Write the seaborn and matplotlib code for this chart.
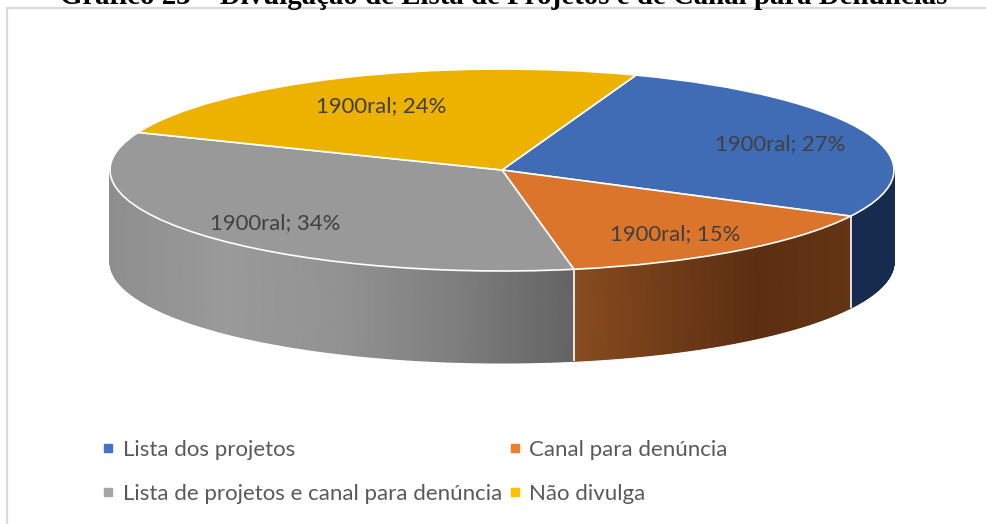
import numpy as np
import matplotlib
matplotlib.use('Agg')
import matplotlib.pyplot as plt
from matplotlib.lines import Line2D
import seaborn as sns

title = 'Gráfico 23 – Divulgação de Lista de Projetos e de Canal para Denúncias'
categories = ['Lista dos projetos', 'Canal para denúncia',
              'Lista de projetos e canal para denúncia', 'Não divulga']
# rotulos arredondam para 27, 15, 34, 24
values = [27, 14.51, 34, 24.49]
label_prefix = '1900ral'

top_colors = ['#3F6CB5', '#DC752C', '#999999', '#EDB100']
legend_colors = ['#4472C4', '#ED7D31', '#A5A5A5', '#FFC000']
# degradê lateral de cada fatia, da esquerda para a direita (amarelo nao aparece)
wall_colors = [['#172B4F', '#172B4F'],
               ['#8A4C20', '#703C18', '#5C2F12', '#623515'],
               ['#8E8E8E', '#9A9A9A', '#929292', '#7E7E7E', '#646464'],
               None]

W, H = 987, 524
cx, cy, rx, ry, depth = 502, 170, 392, 101, 92
start = 70

sns.set_theme(style='white')
plt.rcParams['font.family'] = ['Lato', 'DejaVu Sans']

fig = plt.figure(figsize=(W / 100, H / 100), dpi=100)
ax = fig.add_axes([0, 0, 1, 1])

# face de cima: pizza normal achatada depois com aspect auto
ax.pie(values, startangle=start, counterclock=False, colors=sns.color_palette(top_colors),
       wedgeprops=dict(edgecolor='white', linewidth=1.2, zorder=3))
ax.set_aspect('auto')
ax.set_xlim(-cx / rx, (W - cx) / rx)
ax.set_ylim((cy - H) / ry, cy / ry)
ax.axis('off')

# parede lateral: so a parte de baixo da elipse aparece
d = depth / ry
ends = start - np.cumsum(values) * 3.6
begins = np.r_[start, ends[:-1]]
for b, e, stops in zip(begins, ends, wall_colors):
    hi, lo = min(b, 0), max(e, -180)
    if stops is None or hi <= lo:
        continue
    th = np.radians(np.linspace(hi, lo, 120))
    X = np.array([np.cos(th), np.cos(th)])
    Y = np.array([np.sin(th), np.sin(th) - d])
    cmap = sns.blend_palette(stops, as_cmap=True)
    ax.pcolormesh(X, Y, X, shading='gouraud', cmap=cmap, zorder=1)
    if e > -180:
        xe, ye = np.cos(np.radians(e)), np.sin(np.radians(e))
        ax.vlines(xe, ye - d, ye, color='white', linewidth=1.2, zorder=2)

# rotulos das fatias
label_pos = [(780, 144), (675, 234), (275, 223), (381, 106)]
for v, (px, py) in zip(values, label_pos):
    ax.text((px - cx) / rx, (cy - py) / ry, f'{label_prefix}; {v:.0f}%', ha='center', va='center',
            fontsize=15.9, color='#404040', zorder=5)

# legenda em duas colunas (matplotlib preenche por coluna)
handles = [Line2D([], [], linestyle='none', marker='s', markersize=5.5, color=c) for c in legend_colors]
order = [0, 2, 1, 3]
fig.legend([handles[i] for i in order], [categories[i] for i in order], ncol=2, frameon=False,
           loc='upper left', bbox_to_anchor=(104 / W, 1 - 440 / H), bbox_transform=fig.transFigure,
           fontsize=16.0, labelcolor='#595959', handlelength=0.4, handletextpad=0.45,
           columnspacing=0.38, labelspacing=1.06, borderpad=0, borderaxespad=0)

# moldura do grafico (so esquerda e topo aparecem no recorte)
fig.add_artist(Line2D([7 / W, 7 / W, 1], [0, 1 - 8 / H, 1 - 8 / H], color='#D9D9D9', linewidth=1.6))

# titulo cortado pela borda de cima
fig.text(504 / W, 1 - 4 / H, title, ha='center', va='baseline', fontsize=20.8, fontweight='bold',
         family='Liberation Serif', color='black')

plt.savefig('out.png', dpi=100)
